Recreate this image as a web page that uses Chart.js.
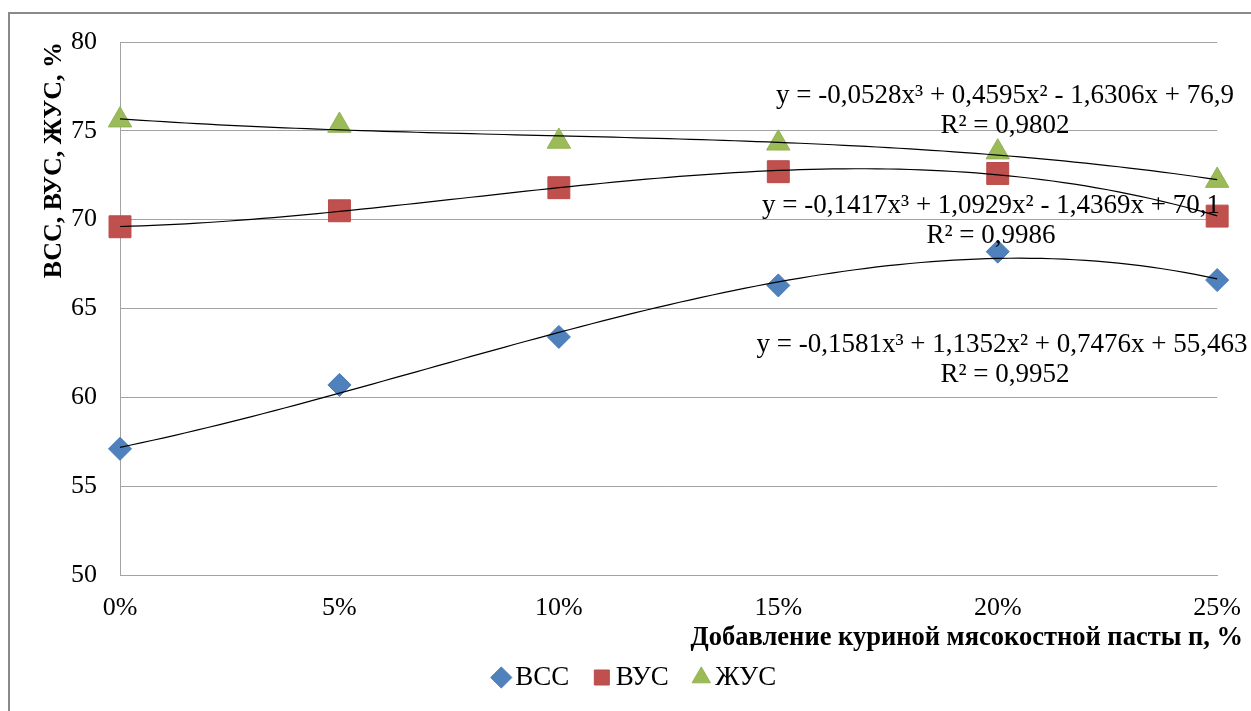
<!DOCTYPE html>
<html>
<head>
<meta charset="utf-8">
<script src="https://cdn.jsdelivr.net/npm/chart.js@4"></script>
<style>
    html, body { margin: 0; padding: 0; background: #fff; }
    #wrap { width: 1251px; height: 711px; }
</style>
</head>
<body>
<div id="wrap"><canvas id="grafico" width="1251" height="711"></canvas></div>
<script>
// Категории и значения
const kategorii = ['0%', '5%', '10%', '15%', '20%', '25%'];
const vss = [57.1, 60.7, 63.4, 66.3, 68.2, 66.6];
const vus = [69.6, 70.5, 71.8, 72.7, 72.6, 70.2];
const zhus = [75.6, 75.3, 74.4, 74.3, 73.8, 72.2];
const yTiki = [50, 55, 60, 65, 70, 75, 80];

// Коэффициенты полиномиальных линий тренда (x^3, x^2, x, св. член), x = 1..6
const trendVss = [-0.1581, 1.1352, 0.7476, 55.463];
const trendVus = [-0.1417, 1.0929, -1.4369, 70.1];
const trendZhus = [-0.0528, 0.4595, -1.6306, 76.9];

// Подписи уравнений
const uravVss = ['y = -0,1581x³ + 1,1352x² + 0,7476x + 55,463', 'R² = 0,9952'];
const uravVus = ['y = -0,1417x³ + 1,0929x² - 1,4369x + 70,1', 'R² = 0,9986'];
const uravZhus = ['y = -0,0528x³ + 0,4595x² - 1,6306x + 76,9', 'R² = 0,9802'];

const nazvanieX = 'Добавление куриной мясокостной пасты п, %';

const SHRIFT = 'Liberation Serif, Times New Roman, serif';
const SERYI = '#a3a3a3';

// Рамка и белый фон
const ramka = {
    id: 'ramka',
    beforeDraw(chart) {
        const ctx = chart.ctx;
        ctx.save();
        ctx.fillStyle = '#fff';
        ctx.fillRect(0, 0, chart.width, chart.height);
        ctx.strokeStyle = '#8a8a8a';
        ctx.lineWidth = 2;
        ctx.strokeRect(9, 13, chart.width + 50, chart.height + 50);
        ctx.restore();
    }
};

// Линии тренда, уравнения и подпись оси X
const trendy = {
    id: 'trendy',
    afterDatasetsDraw(chart) {
        const ctx = chart.ctx;
        const xs = chart.scales.x;
        const ys = chart.scales.y;
        const poly = (k, t) => k[0] * t * t * t + k[1] * t * t + k[2] * t + k[3];
        ctx.save();
        ctx.strokeStyle = '#000';
        ctx.lineWidth = 1.2;
        [trendVss, trendVus, trendZhus].forEach(k => {
            ctx.beginPath();
            for (let t = 1; t <= 6.0001; t += 0.05) {
                const px = xs.getPixelForValue(t - 1);
                const py = ys.getPixelForValue(poly(k, t));
                if (t === 1) ctx.moveTo(px, py); else ctx.lineTo(px, py);
            }
            ctx.stroke();
        });

        ctx.fillStyle = '#000';
        ctx.font = '27px ' + SHRIFT;
        ctx.textAlign = 'center';
        ctx.textBaseline = 'alphabetic';
        const podpisi = [
            [uravZhus, 1005, 103, 1005, 133],
            [uravVus, 991, 213, 991, 243],
            [uravVss, 1002, 352, 1005, 382]
        ];
        podpisi.forEach(p => {
            ctx.fillText(p[0][0], p[1], p[2]);
            ctx.fillText(p[0][1], p[3], p[4]);
        });

        ctx.font = 'bold 26.5px ' + SHRIFT;
        ctx.textAlign = 'right';
        ctx.fillText(nazvanieX, 1243, 645);
        ctx.restore();
    }
};

const ctx = document.getElementById('grafico').getContext('2d');

const config = {
    type: 'line',
    data: {
        labels: kategorii,
        datasets: [{
            label: 'ВСС',
            data: vss,
            showLine: false,
            pointStyle: 'rectRot',
            pointRadius: 11.5,
            backgroundColor: '#4f81bd',
            borderColor: '#4a7ab3',
            pointBorderWidth: 1
        }, {
            label: 'ВУС',
            data: vus,
            showLine: false,
            pointStyle: 'rect',
            pointRadius: 15.5,
            backgroundColor: '#c0504d',
            borderColor: '#b84b48',
            pointBorderWidth: 1
        }, {
            label: 'ЖУС',
            data: zhus,
            showLine: false,
            pointStyle: 'triangle',
            pointRadius: 13.5,
            backgroundColor: '#9bbb59',
            borderColor: '#93b254',
            pointBorderWidth: 1
        }]
    },
    options: {
        responsive: false,
        animation: false,
        devicePixelRatio: 1,
        events: [],
        layout: {
            padding: { left: 56, top: 42, right: 30, bottom: 10 }
        },
        scales: {
            x: {
                type: 'category',
                offset: false,
                grid: { display: false },
                border: { color: SERYI },
                ticks: {
                    color: '#000',
                    padding: 10,
                    maxRotation: 0,
                    autoSkip: false,
                    font: { family: SHRIFT, size: 26 }
                },
                afterFit(scale) { scale.height = 57; }
            },
            y: {
                min: 50,
                max: 80,
                grid: { color: SERYI, drawTicks: false },
                border: { color: SERYI },
                afterBuildTicks(scale) {
                    scale.ticks = yTiki.map(v => ({ value: v }));
                },
                ticks: {
                    color: '#000',
                    padding: 23,
                    font: { family: SHRIFT, size: 26 }
                },
                title: {
                    display: true,
                    text: 'ВСС, ВУС, ЖУС, %',
                    align: 'end',
                    color: '#000',
                    font: { family: SHRIFT, size: 26, weight: 'bold', lineHeight: 1 },
                    padding: { top: -15, bottom: 0 }
                },
                afterFit(scale) { scale.width = 64; }
            }
        },
        plugins: {
            legend: {
                position: 'bottom',
                labels: {
                    usePointStyle: true,
                    boxHeight: 15,
                    boxWidth: 1,
                    padding: 32,
                    color: '#000',
                    font: { family: SHRIFT, size: 27 }
                }
            },
            tooltip: { enabled: false }
        }
    },
    plugins: [ramka, trendy]
};

new Chart(ctx, config);
</script>
</body>
</html>
